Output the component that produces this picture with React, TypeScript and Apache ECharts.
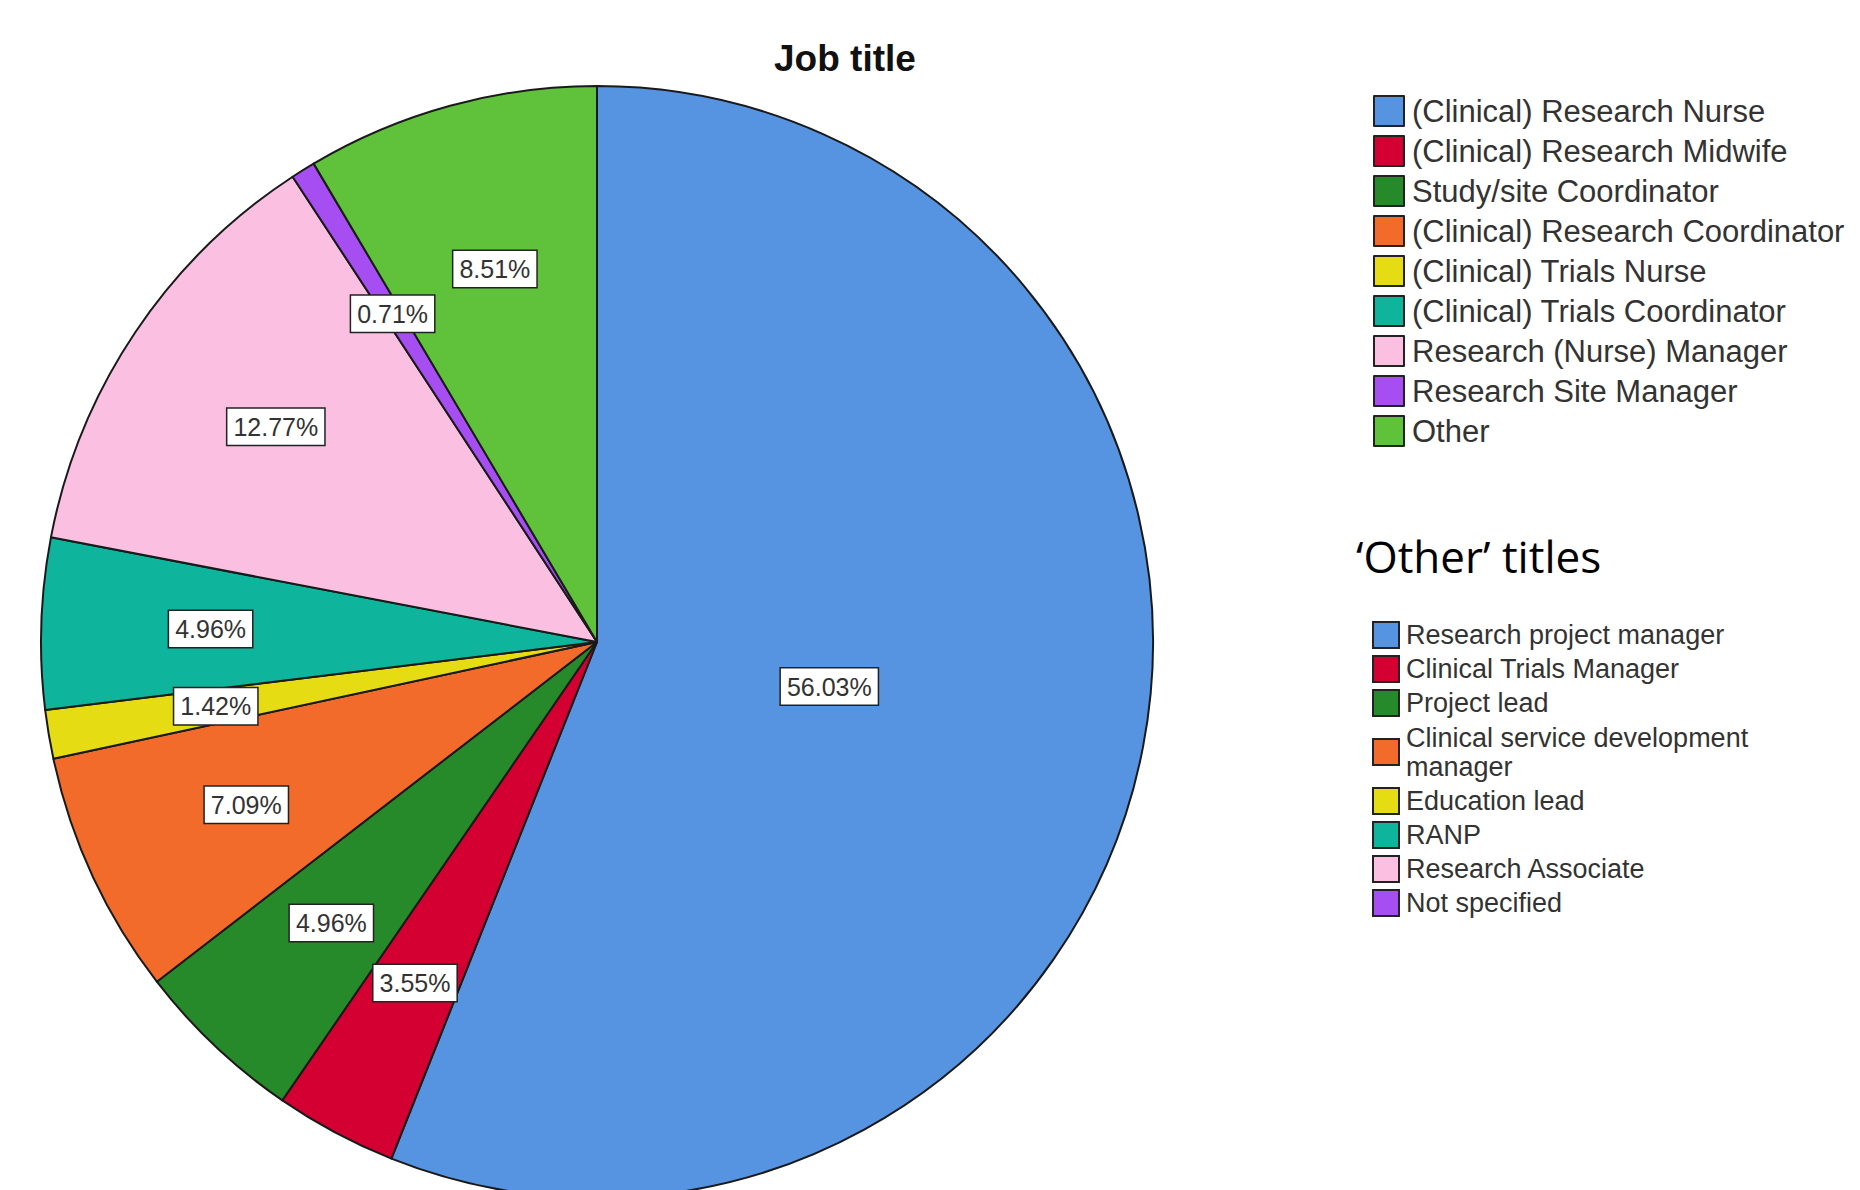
import React, { useEffect, useRef } from "react";
import * as echarts from "echarts";

const chartTitle = "Job title";
const categories = [
  "(Clinical) Research Nurse",
  "(Clinical) Research Midwife",
  "Study/site Coordinator",
  "(Clinical) Research Coordinator",
  "(Clinical) Trials Nurse",
  "(Clinical) Trials Coordinator",
  "Research (Nurse) Manager",
  "Research Site Manager",
  "Other",
];
const counts = [79, 5, 7, 10, 2, 7, 18, 1, 12];
const colors = [
  "#5694e2",
  "#d50032",
  "#278a2a",
  "#f26b2a",
  "#e5dc14",
  "#0fb49c",
  "#fbbfe1",
  "#a64ef2",
  "#60c23a",
];
const otherHeading = "\u2018Other\u2019 titles";
const otherTitles = [
  "Research project manager",
  "Clinical Trials Manager",
  "Project lead",
  "Clinical service development\nmanager",
  "Education lead",
  "RANP",
  "Research Associate",
  "Not specified",
];

const ARIAL = 'Arial, "Liberation Sans", sans-serif';

export default function App() {
  const ref = useRef<HTMLDivElement>(null);

  useEffect(() => {
    if (!ref.current) return;
    const chart = echarts.init(ref.current, undefined, { renderer: "svg" });
    const total = counts.reduce((a, b) => a + b, 0);
    const pct = (v: number) => ((v / total) * 100).toFixed(2) + "%";

    const labelBox = {
      position: "inside",
      formatter: (p: any) => pct(p.value),
      fontFamily: ARIAL,
      fontSize: 25,
      color: "#333",
      backgroundColor: "#fff",
      borderColor: "#222",
      borderWidth: 1.5,
      padding: [6, 6, 5, 6],
    };

    const center = [597, 642];
    const R = 556;

    const mainData = categories.map((name, i) => ({
      name,
      value: counts[i],
      itemStyle: { color: colors[i] },
    }));
    const overlay = (show: (i: number) => boolean) =>
      categories.map((name, i) => ({
        name,
        value: counts[i],
        itemStyle: { color: "rgba(0,0,0,0)", borderWidth: 0 },
        label: { show: show(i) },
      }));

    const legendX = 1373;
    const otherGraphics: any[] = [
      {
        type: "text",
        x: 1356,
        y: 556,
        style: {
          text: otherHeading,
          fontFamily: '"Open Sans", "Noto Sans", sans-serif',
          fontSize: 44,
          fill: "#000",
          verticalAlign: "middle",
        },
      },
    ];
    let extra = 0;
    otherTitles.forEach((t, i) => {
      const lines = t.split("\n").length;
      if (lines > 1) extra += 15;
      const cy = 635 + 34 * i + extra;
      otherGraphics.push({
        type: "rect",
        shape: { x: legendX, y: cy - 13, width: 26, height: 26 },
        style: { fill: colors[i], stroke: "#222", lineWidth: 2 },
      });
      otherGraphics.push({
        type: "text",
        x: 1406,
        y: cy,
        style: {
          text: t,
          fontFamily: ARIAL,
          fontSize: 27,
          lineHeight: 29,
          fill: "#333",
          verticalAlign: "middle",
        },
      });
      if (lines > 1) extra += 15;
    });

    const overlayBase = {
      type: "pie",
      center,
      startAngle: 90,
      clockwise: true,
      silent: true,
      avoidLabelOverlap: false,
      z: 5,
      label: labelBox,
      labelLine: { show: false },
    };

    chart.setOption({
      animation: false,
      backgroundColor: "#fff",
      title: {
        text: chartTitle,
        left: 774,
        top: 40,
        padding: 0,
        textStyle: {
          fontFamily: ARIAL,
          fontSize: 37,
          fontWeight: "bold",
          color: "#111",
        },
      },
      legend: {
        orient: "vertical",
        left: legendX,
        top: 95,
        padding: 0,
        itemWidth: 30,
        itemHeight: 30,
        itemGap: 8,
        icon: "rect",
        selectedMode: false,
        data: categories,
        itemStyle: { borderColor: "#222", borderWidth: 2 },
        textStyle: {
          fontFamily: ARIAL,
          fontSize: 31,
          lineHeight: 30,
          color: "#333",
          padding: [0, 0, 0, 3],
        },
      },
      series: [
        {
          type: "pie",
          center,
          radius: [0, R],
          startAngle: 90,
          clockwise: true,
          silent: true,
          itemStyle: { borderColor: "#1a1a1a", borderWidth: 2 },
          label: { show: false },
          labelLine: { show: false },
          data: mainData,
        },
        {
          ...overlayBase,
          radius: [0, R * 1.38],
          data: overlay((i) => i !== 0),
        },
        {
          ...overlayBase,
          radius: [0, R * 0.84],
          data: overlay((i) => i === 0),
        },
      ],
      graphic: otherGraphics,
    });

    return () => chart.dispose();
  }, []);

  return (
    <div
      ref={ref}
      style={{ position: "absolute", left: 0, top: 0, width: 1860, height: 1190 }}
    />
  );
}
